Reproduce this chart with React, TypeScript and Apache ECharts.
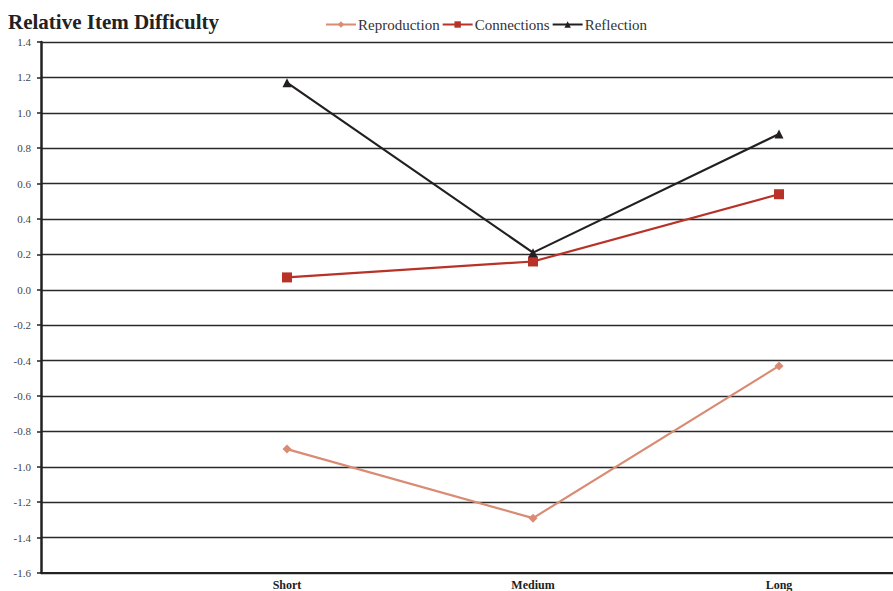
import React, { useEffect, useRef } from "react";
import * as echarts from "echarts";

const categories = ["Short", "Medium", "Long"];
const reproduction = [-0.9, -1.29, -0.43];
const connections = [0.07, 0.16, 0.54];
const reflection = [1.17, 0.21, 0.88];

const FONT = "'Liberation Serif', 'DejaVu Serif', serif";

export default function App() {
  const ref = useRef<HTMLDivElement>(null);
  useEffect(() => {
    const chart = echarts.init(ref.current!, null, { renderer: "svg" });
    const mk = (name: string, vals: number[], color: string, symbol: string, size: number) => ({
      name,
      type: "line",
      data: vals.map((v, i) => [i + 1, v]),
      symbol,
      symbolSize: size,
      showAllSymbol: true,
      lineStyle: { color, width: 2.2 },
      itemStyle: { color },
    });
    chart.setOption({
      animation: false,
      backgroundColor: "#fff",
      textStyle: { fontFamily: FONT },
      title: {
        text: "Relative Item Difficulty",
        left: 3,
        top: 6,
        textStyle: { fontFamily: FONT, fontWeight: "bold", fontSize: 21, color: "#222" },
      },
      legend: {
        top: 12,
        left: 320,
        itemGap: 2,
        itemWidth: 30,
        itemHeight: 8,
        textStyle: { fontFamily: FONT, fontSize: 15, color: "#333", padding: [0, 0, 0, -3] },
        data: ["Reproduction", "Connections", "Reflection"],
      },
      grid: { left: 41, right: 0, top: 42, bottom: 17 },
      xAxis: {
        type: "value",
        min: 0,
        max: 852 / 246,
        interval: 1,
        axisLine: { show: true, onZero: false, lineStyle: { color: "#222", width: 2 } },
        axisTick: { show: false },
        axisLabel: {
          fontFamily: FONT,
          fontWeight: "bold",
          fontSize: 12,
          color: "#222",
          margin: 6,
          showMinLabel: false,
          showMaxLabel: false,
          formatter: (v: number) => categories[Math.round(v) - 1] ?? "",
        },
        splitLine: { show: false },
      },
      yAxis: {
        type: "value",
        min: -1.6,
        max: 1.4,
        interval: 0.2,
        axisLine: { show: true, lineStyle: { color: "#222", width: 2.5 } },
        axisTick: { show: true, length: 4, lineStyle: { color: "#222", width: 1.5 } },
        axisLabel: {
          fontFamily: FONT,
          fontSize: 11,
          color: "#444",
          margin: 10,
          formatter: (v: number) => v.toFixed(1),
        },
        splitLine: { lineStyle: { color: "#2a2a2a", width: 1.4 } },
      },
      series: [
        mk("Reproduction", reproduction, "#D98B73", "diamond", 9),
        mk("Connections", connections, "#B83227", "rect", 10),
        mk("Reflection", reflection, "#231F20", "triangle", 9),
      ],
    });
    return () => chart.dispose();
  }, []);
  return (
    <div
      ref={ref}
      style={{ position: "absolute", left: 0, top: 0, width: 893, height: 591 }}
    />
  );
}
